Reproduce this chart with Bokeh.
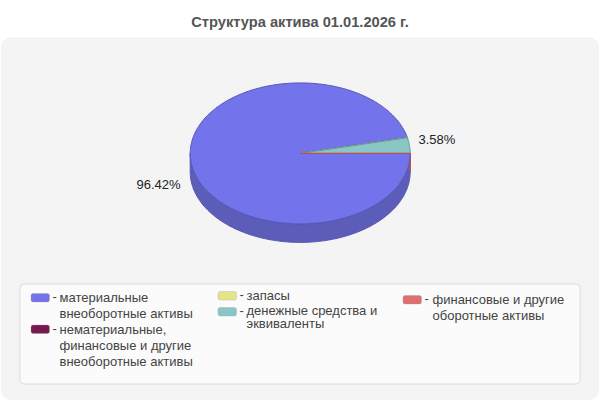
import numpy as np
from bokeh.plotting import figure
from bokeh.models import BoxAnnotation, Range1d
from bokeh.core.properties import value
from bokeh.embed import file_html
from bokeh.resources import INLINE

title = "Структура актива 01.01.2026 г."
categories = [
    "материальные внеоборотные активы",
    "нематериальные, финансовые и другие внеоборотные активы",
    "запасы",
    "денежные средства и эквиваленты",
    "финансовые и другие оборотные активы",
]
shares = [96.42, 0.0, 0.0, 3.58, 0.0]
top_colors = ["#7373EC", "#781850", "#E4E48C", "#8AC6C6", "#E06E70"]
side_colors = ["#5C5CB9", "#5E1240", "#B4B46E", "#6C9C9C", "#B05658"]
edge_colors = ["#5656B4", "#5E1240", "#B4B46E", "#5F9A9A", "#C04C50"]

# layout (reference pixels; the ranges below map them one-to-one)
CX, CY, RX, RY, DEPTH = 299.7, 152.9, 110, 70.5, 18.5
FONT = "Liberation Sans"

p = figure(width=600, height=400, output_backend="svg", toolbar_location=None,
           x_range=Range1d(0, 600), y_range=Range1d(400, 0),
           x_axis_type=None, y_axis_type=None, min_border=0,
           background_fill_color="white", border_fill_color="white", outline_line_color=None)
p.grid.visible = False

p.add_layout(BoxAnnotation(left=1, right=598, top=37.5, bottom=399, fill_color="#F4F4F4", fill_alpha=1,
                           line_color="#E2E2E2", line_width=1, border_radius=9, level="underlay"))
p.add_layout(BoxAnnotation(left=19.5, right=579.5, top=283.5, bottom=383.5, fill_color="#FBFBFB", fill_alpha=1,
                           line_color="#9C9C9C", line_width=1, border_radius=4, level="underlay"))


def ell(t, dy=0.0):
    r = np.radians(t)
    return CX + RX * np.cos(r), CY + RY * np.sin(r) + dy


edges = np.concatenate([[0], np.cumsum(shares)]) * 3.6
edges[-1] = 360

# side wall of the disc (front half only)
for i in range(len(shares)):
    for lo, hi in ((0, 180), (360, 540)):
        a, b = max(edges[i], lo), min(edges[i + 1], hi)
        if a > b:
            continue
        t = np.linspace(a, b, 181)
        x0, y0 = ell(t)
        x1, y1 = ell(t[::-1], DEPTH)
        p.patch(np.r_[x0, x1], np.r_[y0, y1], fill_color=side_colors[i], line_color=edge_colors[i], line_width=1)

# top face
for i in range(len(shares)):
    t = np.linspace(edges[i], edges[i + 1], 361)
    x, y = ell(t)
    p.patch(np.r_[CX, x], np.r_[CY, y], fill_color=top_colors[i], line_color=edge_colors[i], line_width=1)

# data labels
label_x = [136, 418]
label_y = [184, 138.7]
label_txt = [f"{shares[0]:.2f}%", f"{shares[3]:.2f}%"]
p.text(label_x, label_y, text=label_txt, text_font=value(FONT), text_font_size="13px",
       text_color="#222222", text_baseline="middle", text_align="left")

p.text([299.5], [21], text=[title], text_font=value(FONT), text_font_size="14.67px", text_font_style="bold",
       text_color="#555555", text_baseline="middle", text_align="center")

# legend
swatches = [(30, 293), (30, 324.5), (217, 291), (217, 307), (402, 295)]
entry_lines = [
    ["материальные", "внеоборотные активы"],
    ["нематериальные,", "финансовые и другие", "внеоборотные активы"],
    ["запасы"],
    ["денежные средства и", "эквиваленты"],
    ["финансовые и другие", "оборотные активы"],
]
text_x = [59, 59, 246, 246, 432]
text_y = [297.3, 328.8, 295.3, 310.3, 299.3]
line_h = [16, 16, 16, 13, 16]
for i, (sx, sy) in enumerate(swatches):
    p.add_layout(BoxAnnotation(left=sx + 0.5, right=sx + 19, top=sy, bottom=sy + 8.5, fill_color=top_colors[i],
                               fill_alpha=1, line_color="#9A9A9A", line_width=1, border_radius=2))
    p.text([sx + 22], [sy + 3.3], text=["-"], text_font=value(FONT), text_font_size="13px",
           text_color="#444444", text_baseline="middle")
    for k, s in enumerate(entry_lines[i]):
        p.text([text_x[i]], [text_y[i] + k * line_h[i]], text=[s], text_font=value(FONT), text_font_size="13px",
               text_color="#444444", text_baseline="middle")

open("out.html", "w").write(file_html(p, INLINE))
